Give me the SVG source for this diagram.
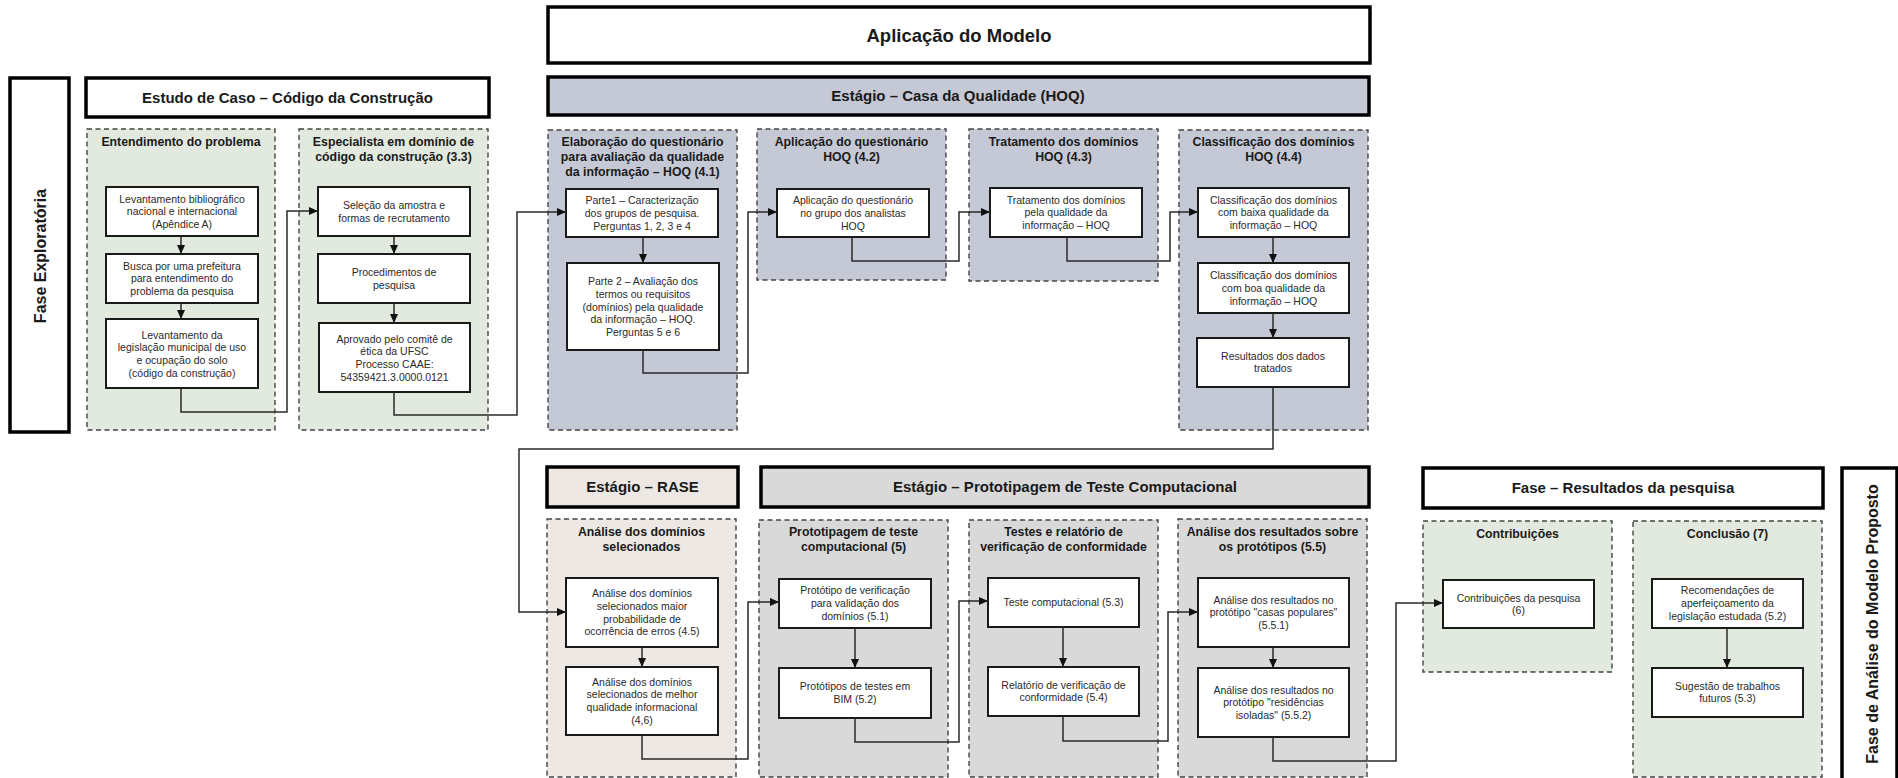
<svg xmlns="http://www.w3.org/2000/svg" width="1898" height="778" viewBox="0 0 1898 778">
  <style>
    text { font-family: "Liberation Sans", Arial, sans-serif; text-anchor: middle; fill: #1a1a1a; }
    .hdr { stroke: #000; stroke-width: 3.5; }
    .side { fill: #fff; stroke: #000; stroke-width: 3.5; }
    .grp { stroke: #444; stroke-width: 1.4; stroke-dasharray: 5 3.5; }
    .box { fill: #fff; stroke: #1a1a1a; stroke-width: 2; }
    .ht { font-size: 15px; font-weight: bold; }
    .gt { font-size: 12.3px; font-weight: bold; }
    .bt { font-size: 10.5px; fill: #2a2a2a; }
    .vt { font-size: 16px; font-weight: bold; }
    .green { fill: #e2e9df; }
    .hoq { fill: #c5c9d5; }
    .rase { fill: #ede8e4; }
    .proto { fill: #d9d9d9; }
    .white { fill: #fff; }
    #connectors path { fill: none; stroke: #2a2a2a; stroke-width: 1.5; marker-end: url(#arrow); }
  </style>
  <defs>
    <marker id="arrow" markerWidth="9" markerHeight="8" refX="9" refY="4" orient="auto" markerUnits="userSpaceOnUse">
      <path d="M0,0 L9,4 L0,8 Z" fill="#111"/>
    </marker>
  </defs>

  <rect width="1898" height="778" fill="#fff"/>

  <!-- phase bars -->
  <g id="fase-exploratoria">
    <rect class="side" x="10" y="78" width="59" height="354"/>
    <text class="vt" transform="translate(45.5,256) rotate(-90)">Fase Exploratória</text>
  </g>
  <g id="fase-analise">
    <rect class="side" x="1842" y="468" width="55" height="340"/>
    <text class="vt" transform="translate(1877.5,624) rotate(-90)">Fase de Análise do Modelo Proposto</text>
  </g>

  <!-- stage headers -->
  <g id="hdr-estudo">
    <rect class="hdr white" x="86" y="78" width="403" height="39"/>
    <text class="ht" x="287.5" y="102.5">Estudo de Caso – Código da Construção</text>
  </g>
  <g id="hdr-aplicacao">
    <rect class="hdr white" x="548" y="7" width="822" height="56"/>
    <text class="ht" x="959" y="41.5" style="font-size:18.5px">Aplicação do Modelo</text>
  </g>
  <g id="hdr-hoq">
    <rect class="hdr hoq" x="548" y="77" width="821" height="38"/>
    <text class="ht" x="958" y="101">Estágio – Casa da Qualidade (HOQ)</text>
  </g>
  <g id="hdr-rase">
    <rect class="hdr rase" x="547" y="467" width="191" height="40"/>
    <text class="ht" x="642.5" y="492">Estágio – RASE</text>
  </g>
  <g id="hdr-prototipagem">
    <rect class="hdr proto" x="761" y="467" width="608" height="40"/>
    <text class="ht" x="1065" y="492">Estágio – Prototipagem de Teste Computacional</text>
  </g>
  <g id="hdr-resultados">
    <rect class="hdr white" x="1423" y="468" width="400" height="40"/>
    <text class="ht" x="1623" y="493">Fase – Resultados da pesquisa</text>
  </g>

  <!-- Entendimento do problema -->
  <g id="grp-entendimento">
    <rect class="grp green" x="87" y="129" width="188" height="301"/>
    <text class="gt" x="181" y="146">Entendimento do problema</text>
    <rect class="box" x="106" y="187" width="152" height="49"/>
    <text class="bt" x="182" y="202.5"><tspan x="182">Levantamento bibliográfico</tspan><tspan x="182" dy="12.8">nacional e internacional</tspan><tspan x="182" dy="12.8">(Apêndice A)</tspan></text>
    <rect class="box" x="106" y="254" width="152" height="49"/>
    <text class="bt" x="182" y="269.5"><tspan x="182">Busca por uma prefeitura</tspan><tspan x="182" dy="12.8">para entendimento do</tspan><tspan x="182" dy="12.8">problema da pesquisa</tspan></text>
    <rect class="box" x="106" y="319" width="152" height="69"/>
    <text class="bt" x="182" y="338.5"><tspan x="182">Levantamento da</tspan><tspan x="182" dy="12.8">legislação municipal de uso</tspan><tspan x="182" dy="12.8">e ocupação do solo</tspan><tspan x="182" dy="12.8">(código da construção)</tspan></text>
  </g>

  <!-- Especialista -->
  <g id="grp-especialista">
    <rect class="grp green" x="299" y="129" width="189" height="301"/>
    <text class="gt" x="393.5" y="146"><tspan x="393.5">Especialista em domínio de</tspan><tspan x="393.5" dy="15">código da construção (3.3)</tspan></text>
    <rect class="box" x="318" y="187" width="152" height="49"/>
    <text class="bt" x="394" y="209"><tspan x="394">Seleção da amostra e</tspan><tspan x="394" dy="12.8">formas de recrutamento</tspan></text>
    <rect class="box" x="318" y="254" width="152" height="49"/>
    <text class="bt" x="394" y="276"><tspan x="394">Procedimentos de</tspan><tspan x="394" dy="12.8">pesquisa</tspan></text>
    <rect class="box" x="319" y="323" width="151" height="69"/>
    <text class="bt" x="394.5" y="342.5"><tspan x="394.5">Aprovado pelo comitê de</tspan><tspan x="394.5" dy="12.8">ética da UFSC</tspan><tspan x="394.5" dy="12.8">Processo CAAE:</tspan><tspan x="394.5" dy="12.8">54359421.3.0000.0121</tspan></text>
  </g>

  <!-- Elaboração do questionário -->
  <g id="grp-elaboracao">
    <rect class="grp hoq" x="548" y="130" width="189" height="300"/>
    <text class="gt" x="642.5" y="146"><tspan x="642.5">Elaboração do questionário</tspan><tspan x="642.5" dy="15">para avaliação da qualidade</tspan><tspan x="642.5" dy="15">da informação – HOQ (4.1)</tspan></text>
    <rect class="box" x="566" y="189" width="152" height="48"/>
    <text class="bt" x="642" y="204"><tspan x="642">Parte1 – Caracterização</tspan><tspan x="642" dy="12.8">dos grupos de pesquisa.</tspan><tspan x="642" dy="12.8">Perguntas 1, 2, 3 e 4</tspan></text>
    <rect class="box" x="567" y="263" width="152" height="87"/>
    <text class="bt" x="643" y="285"><tspan x="643">Parte 2 – Avaliação dos</tspan><tspan x="643" dy="12.8">termos ou requisitos</tspan><tspan x="643" dy="12.8">(domínios) pela qualidade</tspan><tspan x="643" dy="12.8">da informação – HOQ.</tspan><tspan x="643" dy="12.8">Perguntas 5 e 6</tspan></text>
  </g>

  <!-- Aplicação do questionário -->
  <g id="grp-aplicacao-questionario">
    <rect class="grp hoq" x="757" y="129" width="189" height="151"/>
    <text class="gt" x="851.5" y="146"><tspan x="851.5">Aplicação do questionário</tspan><tspan x="851.5" dy="15">HOQ (4.2)</tspan></text>
    <rect class="box" x="777" y="189" width="152" height="48"/>
    <text class="bt" x="853" y="204"><tspan x="853">Aplicação do questionário</tspan><tspan x="853" dy="12.8">no grupo dos analistas</tspan><tspan x="853" dy="12.8">HOQ</tspan></text>
  </g>

  <!-- Tratamento dos domínios -->
  <g id="grp-tratamento">
    <rect class="grp hoq" x="969" y="129" width="189" height="152"/>
    <text class="gt" x="1063.5" y="146"><tspan x="1063.5">Tratamento dos domínios</tspan><tspan x="1063.5" dy="15">HOQ (4.3)</tspan></text>
    <rect class="box" x="990" y="188" width="152" height="49"/>
    <text class="bt" x="1066" y="203.5"><tspan x="1066">Tratamento dos domínios</tspan><tspan x="1066" dy="12.8">pela qualidade da</tspan><tspan x="1066" dy="12.8">informação – HOQ</tspan></text>
  </g>

  <!-- Classificação dos domínios -->
  <g id="grp-classificacao">
    <rect class="grp hoq" x="1179" y="130" width="189" height="300"/>
    <text class="gt" x="1273.5" y="146"><tspan x="1273.5">Classificação dos domínios</tspan><tspan x="1273.5" dy="15">HOQ (4.4)</tspan></text>
    <rect class="box" x="1198" y="188" width="151" height="49"/>
    <text class="bt" x="1273.5" y="203.5"><tspan x="1273.5">Classificação dos domínios</tspan><tspan x="1273.5" dy="12.8">com baixa qualidade da</tspan><tspan x="1273.5" dy="12.8">informação – HOQ</tspan></text>
    <rect class="box" x="1198" y="263" width="151" height="50"/>
    <text class="bt" x="1273.5" y="279"><tspan x="1273.5">Classificação dos domínios</tspan><tspan x="1273.5" dy="12.8">com boa qualidade da</tspan><tspan x="1273.5" dy="12.8">informação – HOQ</tspan></text>
    <rect class="box" x="1197" y="338" width="152" height="49"/>
    <text class="bt" x="1273" y="359.5"><tspan x="1273">Resultados dos dados</tspan><tspan x="1273" dy="12.8">tratados</tspan></text>
  </g>

  <!-- Análise dos domínios selecionados -->
  <g id="grp-analise-dominios">
    <rect class="grp rase" x="547" y="519" width="189" height="258"/>
    <text class="gt" x="641.5" y="536"><tspan x="641.5">Análise dos domínios</tspan><tspan x="641.5" dy="15">selecionados</tspan></text>
    <rect class="box" x="566" y="578" width="152" height="69"/>
    <text class="bt" x="642" y="597"><tspan x="642">Análise dos domínios</tspan><tspan x="642" dy="12.8">selecionados maior</tspan><tspan x="642" dy="12.8">probabilidade de</tspan><tspan x="642" dy="12.8">ocorrência de erros (4.5)</tspan></text>
    <rect class="box" x="566" y="667" width="152" height="68"/>
    <text class="bt" x="642" y="685.5"><tspan x="642">Análise dos domínios</tspan><tspan x="642" dy="12.8">selecionados de melhor</tspan><tspan x="642" dy="12.8">qualidade informacional</tspan><tspan x="642" dy="12.8">(4,6)</tspan></text>
  </g>

  <!-- Prototipagem de teste computacional -->
  <g id="grp-prototipagem">
    <rect class="grp proto" x="759" y="520" width="189" height="257"/>
    <text class="gt" x="853.5" y="536"><tspan x="853.5">Prototipagem de teste</tspan><tspan x="853.5" dy="15">computacional (5)</tspan></text>
    <rect class="box" x="779" y="579" width="152" height="49"/>
    <text class="bt" x="855" y="594"><tspan x="855">Protótipo de verificação</tspan><tspan x="855" dy="12.8">para validação dos</tspan><tspan x="855" dy="12.8">domínios (5.1)</tspan></text>
    <rect class="box" x="779" y="668" width="152" height="50"/>
    <text class="bt" x="855" y="690"><tspan x="855">Protótipos de testes em</tspan><tspan x="855" dy="12.8">BIM (5.2)</tspan></text>
  </g>

  <!-- Testes e relatório -->
  <g id="grp-testes">
    <rect class="grp proto" x="969" y="520" width="189" height="257"/>
    <text class="gt" x="1063.5" y="536"><tspan x="1063.5">Testes e relatório de</tspan><tspan x="1063.5" dy="15">verificação de conformidade</tspan></text>
    <rect class="box" x="988" y="578" width="151" height="49"/>
    <text class="bt" x="1063.5" y="606">Teste computacional (5.3)</text>
    <rect class="box" x="988" y="667" width="151" height="49"/>
    <text class="bt" x="1063.5" y="688.5"><tspan x="1063.5">Relatório de verificação de</tspan><tspan x="1063.5" dy="12.8">conformidade (5.4)</tspan></text>
  </g>

  <!-- Análise dos resultados -->
  <g id="grp-analise-resultados">
    <rect class="grp proto" x="1178" y="519" width="189" height="258"/>
    <text class="gt" x="1272.5" y="536"><tspan x="1272.5">Análise dos resultados sobre</tspan><tspan x="1272.5" dy="15">os protótipos (5.5)</tspan></text>
    <rect class="box" x="1198" y="578" width="151" height="69"/>
    <text class="bt" x="1273.5" y="603.5"><tspan x="1273.5">Análise dos resultados no</tspan><tspan x="1273.5" dy="12.8">protótipo "casas populares"</tspan><tspan x="1273.5" dy="12.8">(5.5.1)</tspan></text>
    <rect class="box" x="1198" y="668" width="151" height="69"/>
    <text class="bt" x="1273.5" y="693.5"><tspan x="1273.5">Análise dos resultados no</tspan><tspan x="1273.5" dy="12.8">protótipo "residências</tspan><tspan x="1273.5" dy="12.8">isoladas" (5.5.2)</tspan></text>
  </g>

  <!-- Contribuições -->
  <g id="grp-contribuicoes">
    <rect class="grp green" x="1423" y="521" width="189" height="151"/>
    <text class="gt" x="1517.5" y="538">Contribuições</text>
    <rect class="box" x="1443" y="580" width="151" height="48"/>
    <text class="bt" x="1518.5" y="601.5"><tspan x="1518.5">Contribuições da pesquisa</tspan><tspan x="1518.5" dy="12.8">(6)</tspan></text>
  </g>

  <!-- Conclusão -->
  <g id="grp-conclusao">
    <rect class="grp green" x="1633" y="521" width="189" height="256"/>
    <text class="gt" x="1727.5" y="538">Conclusão (7)</text>
    <rect class="box" x="1652" y="579" width="151" height="49"/>
    <text class="bt" x="1727.5" y="594"><tspan x="1727.5">Recomendações de</tspan><tspan x="1727.5" dy="12.8">aperfeiçoamento da</tspan><tspan x="1727.5" dy="12.8">legislação estudada (5.2)</tspan></text>
    <rect class="box" x="1652" y="668" width="151" height="49"/>
    <text class="bt" x="1727.5" y="689.5"><tspan x="1727.5">Sugestão de trabalhos</tspan><tspan x="1727.5" dy="12.8">futuros (5.3)</tspan></text>
  </g>

  <!-- flow connectors -->
  <g id="connectors">
    <path d="M181,236 V254"/>
    <path d="M181,303 V319"/>
    <path d="M181,388 V412 H287 V211 H318"/>
    <path d="M394,236 V254"/>
    <path d="M394,303 V323"/>
    <path d="M394,392 V415 H517 V212 H566"/>
    <path d="M643,237 V263"/>
    <path d="M643,350 V373 H748 V212 H777"/>
    <path d="M852,237 V261 H959 V212 H990"/>
    <path d="M1067,237 V261 H1170 V212 H1198"/>
    <path d="M1273,237 V263"/>
    <path d="M1273,313 V338"/>
    <path d="M1273,387 V449 H519 V612 H566"/>
    <path d="M642,647 V667"/>
    <path d="M642,735 V759 H748 V602 H779"/>
    <path d="M855,628 V668"/>
    <path d="M855,718 V742 H959 V601 H988"/>
    <path d="M1063,627 V667"/>
    <path d="M1063,716 V741 H1168 V612 H1198"/>
    <path d="M1273,647 V668"/>
    <path d="M1273,737 V761 H1396 V603 H1443"/>
    <path d="M1727,628 V668"/>
  </g>
</svg>
